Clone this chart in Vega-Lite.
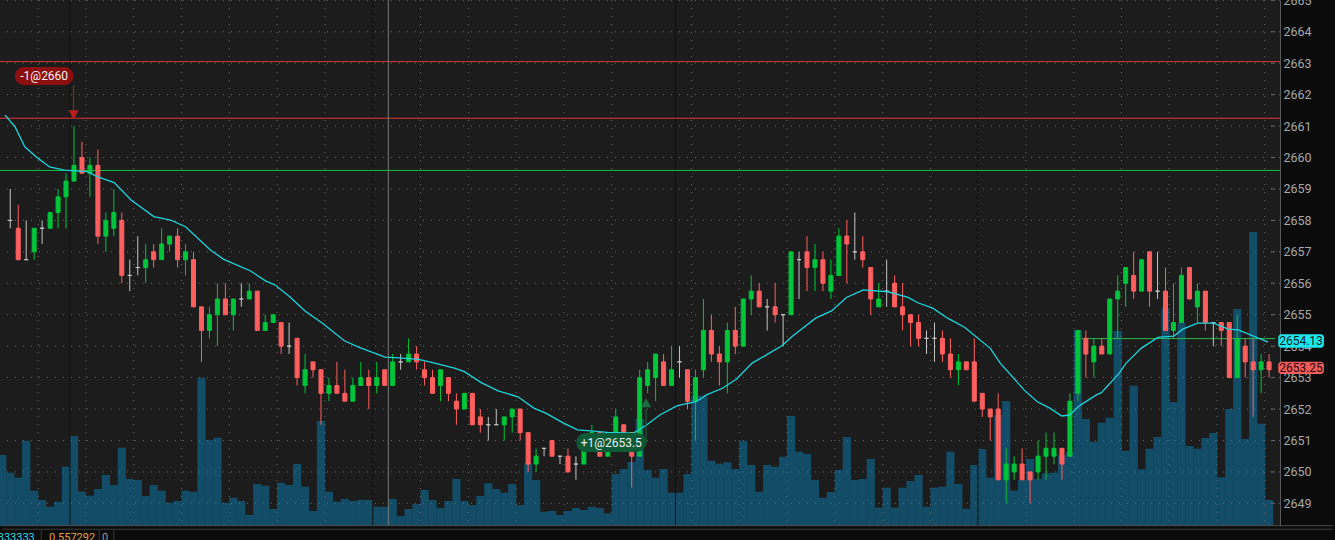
{
"$schema":"https://vega.github.io/schema/vega-lite/v6.json",
"width":1280,"height":526,
"autosize":{"type":"none"},
"padding":{"left":0,"top":0,"right":55,"bottom":14},
"background":"#0b0b0b",
"config":{"view":{"fill":"#1c1c1c","stroke":null},"font":"Roboto"},
"datasets":{
"candles":[
{"i":-1,"v":710},
{"i":0,"o":2658,"h":2659,"l":2657.75,"c":2658,"v":533},
{"i":1,"o":2657.75,"h":2658.5,"l":2656.75,"c":2656.75,"v":483},
{"i":2,"o":2656.75,"h":2658,"l":2656.75,"c":2656.75,"v":853},
{"i":3,"o":2657,"h":2657.75,"l":2656.75,"c":2657.75,"v":353},
{"i":4,"o":2657.75,"h":2658,"l":2657.25,"c":2657.75,"v":260},
{"i":5,"o":2657.75,"h":2658.25,"l":2657.75,"c":2658.25,"v":193},
{"i":6,"o":2658.25,"h":2659,"l":2657.75,"c":2658.75,"v":243},
{"i":7,"o":2658.75,"h":2659.5,"l":2657.75,"c":2659.25,"v":593},
{"i":8,"o":2659.25,"h":2661,"l":2659.25,"c":2659.75,"v":900},
{"i":9,"o":2660,"h":2660.5,"l":2659.5,"c":2659.5,"v":343},
{"i":10,"o":2659.5,"h":2660,"l":2658.75,"c":2659.75,"v":303},
{"i":11,"o":2659.75,"h":2660.25,"l":2657.25,"c":2657.5,"v":370},
{"i":12,"o":2657.5,"h":2658.25,"l":2657,"c":2658,"v":510},
{"i":13,"o":2657.75,"h":2659,"l":2657.5,"c":2658.25,"v":410},
{"i":14,"o":2658,"h":2658.25,"l":2656,"c":2656.25,"v":783},
{"i":15,"o":2656.25,"h":2656.75,"l":2655.75,"c":2656.25,"v":470},
{"i":16,"o":2656.5,"h":2657.5,"l":2656.25,"c":2656.5,"v":460},
{"i":17,"o":2656.5,"h":2657.25,"l":2656,"c":2656.75,"v":300},
{"i":18,"o":2657,"h":2657.25,"l":2656.5,"c":2656.75,"v":410},
{"i":19,"o":2656.75,"h":2657.75,"l":2656.75,"c":2657.25,"v":353},
{"i":20,"o":2657.25,"h":2657.5,"l":2657,"c":2657.5,"v":233},
{"i":21,"o":2657.5,"h":2657.75,"l":2656.5,"c":2656.75,"v":250},
{"i":22,"o":2656.75,"h":2657.25,"l":2656.25,"c":2657,"v":353},
{"i":23,"o":2656.75,"h":2657,"l":2655.25,"c":2655.25,"v":343},
{"i":24,"o":2655.25,"h":2655.25,"l":2653.5,"c":2654.5,"v":1483},
{"i":25,"o":2654.5,"h":2655.25,"l":2654.25,"c":2655,"v":860},
{"i":26,"o":2655,"h":2656,"l":2654,"c":2655.5,"v":883},
{"i":27,"o":2655.5,"h":2656,"l":2655,"c":2655,"v":233},
{"i":28,"o":2655,"h":2655.5,"l":2654.5,"c":2655.5,"v":283},
{"i":29,"o":2655.5,"h":2656,"l":2655.25,"c":2655.5,"v":250},
{"i":30,"o":2655.5,"h":2656,"l":2655.5,"c":2655.75,"v":110},
{"i":31,"o":2655.75,"h":2655.75,"l":2654.5,"c":2654.5,"v":420},
{"i":32,"o":2654.5,"h":2655,"l":2654.5,"c":2654.75,"v":403},
{"i":33,"o":2654.75,"h":2655,"l":2654.75,"c":2655,"v":170},
{"i":34,"o":2654.75,"h":2654.75,"l":2653.75,"c":2654,"v":433},
{"i":35,"o":2654,"h":2654.75,"l":2653.75,"c":2654,"v":410},
{"i":36,"o":2654.25,"h":2654.25,"l":2652.75,"c":2653,"v":620},
{"i":37,"o":2652.75,"h":2653.75,"l":2652.5,"c":2653.25,"v":393},
{"i":38,"o":2653.5,"h":2653.5,"l":2653,"c":2653.25,"v":150},
{"i":39,"o":2653.25,"h":2653.25,"l":2651.5,"c":2652.5,"v":1050},
{"i":40,"o":2652.5,"h":2653,"l":2652.25,"c":2652.75,"v":343},
{"i":41,"o":2652.75,"h":2653.5,"l":2652.5,"c":2652.5,"v":243},
{"i":42,"o":2652.5,"h":2653.25,"l":2652.25,"c":2652.25,"v":270},
{"i":43,"o":2652.25,"h":2653,"l":2652.25,"c":2652.75,"v":250},
{"i":44,"o":2652.75,"h":2653.5,"l":2652.75,"c":2653,"v":260},
{"i":45,"o":2653,"h":2653.25,"l":2652,"c":2652.75,"v":260},
{"i":46,"o":2652.75,"h":2653.5,"l":2652.5,"c":2653,"v":193},
{"i":47,"o":2653.25,"h":2653.25,"l":2652.75,"c":2652.75,"v":193},
{"i":48,"o":2652.75,"h":2653.75,"l":2652.75,"c":2653.5,"v":270},
{"i":49,"o":2653.5,"h":2653.75,"l":2653.25,"c":2653.5,"v":100},
{"i":50,"o":2653.5,"h":2654.25,"l":2653.5,"c":2653.75,"v":170},
{"i":51,"o":2653.75,"h":2654,"l":2653.25,"c":2653.5,"v":220},
{"i":52,"o":2653.25,"h":2653.5,"l":2652.75,"c":2653,"v":360},
{"i":53,"o":2653,"h":2653.25,"l":2652.5,"c":2652.5,"v":260},
{"i":54,"o":2652.75,"h":2653.25,"l":2652.25,"c":2653.25,"v":180},
{"i":55,"o":2653,"h":2653,"l":2652.25,"c":2652.5,"v":250},
{"i":56,"o":2652.25,"h":2652.5,"l":2651.5,"c":2652,"v":470},
{"i":57,"o":2652,"h":2652.5,"l":2652,"c":2652.5,"v":250},
{"i":58,"o":2652.5,"h":2652.5,"l":2651.5,"c":2651.5,"v":210},
{"i":59,"o":2651.75,"h":2652,"l":2651.25,"c":2651.5,"v":300},
{"i":60,"o":2651.5,"h":2651.75,"l":2651,"c":2651.5,"v":427},
{"i":61,"o":2651.5,"h":2652,"l":2651.5,"c":2651.5,"v":370},
{"i":62,"o":2651.5,"h":2651.75,"l":2651,"c":2651.75,"v":333},
{"i":63,"o":2651.75,"h":2652,"l":2651.25,"c":2652,"v":420},
{"i":64,"o":2652,"h":2652,"l":2651,"c":2651.25,"v":210},
{"i":65,"o":2651.25,"h":2651.25,"l":2650,"c":2650.25,"v":627},
{"i":66,"o":2650.25,"h":2650.75,"l":2650,"c":2650.5,"v":460},
{"i":67,"o":2650.75,"h":2650.75,"l":2650.5,"c":2650.75,"v":143},
{"i":68,"o":2651,"h":2651,"l":2650.5,"c":2650.5,"v":150},
{"i":69,"o":2650.5,"h":2650.5,"l":2650.25,"c":2650.5,"v":110},
{"i":70,"o":2650.5,"h":2650.75,"l":2650,"c":2650,"v":150},
{"i":71,"o":2650.25,"h":2650.5,"l":2649.75,"c":2650.25,"v":180},
{"i":72,"o":2650.25,"h":2651,"l":2650.25,"c":2650.75,"v":160},
{"i":73,"o":2651,"h":2651.5,"l":2651,"c":2651.25,"v":193},
{"i":74,"o":2651.25,"h":2651.25,"l":2650.5,"c":2650.5,"v":180},
{"i":75,"o":2650.5,"h":2651.25,"l":2650.5,"c":2651.25,"v":127},
{"i":76,"o":2651.25,"h":2652,"l":2651.25,"c":2651.75,"v":520},
{"i":77,"o":2651.5,"h":2651.5,"l":2651.25,"c":2651.25,"v":570},
{"i":78,"o":2651.25,"h":2651.25,"l":2649.5,"c":2650.5,"v":640},
{"i":79,"o":2650.5,"h":2653.25,"l":2650.5,"c":2653,"v":1070},
{"i":80,"o":2652.75,"h":2653.5,"l":2652.5,"c":2653.25,"v":560},
{"i":81,"o":2653,"h":2653.75,"l":2652.25,"c":2653.75,"v":483},
{"i":82,"o":2653.5,"h":2653.75,"l":2652.75,"c":2652.75,"v":570},
{"i":83,"o":2652.75,"h":2654,"l":2652.75,"c":2653.25,"v":333},
{"i":84,"o":2653.5,"h":2654,"l":2653,"c":2653.5,"v":333},
{"i":85,"o":2653.25,"h":2653.25,"l":2652,"c":2652.25,"v":520},
{"i":86,"o":2652.25,"h":2653.25,"l":2651,"c":2653,"v":1303},
{"i":87,"o":2653.25,"h":2655.5,"l":2653,"c":2654.5,"v":1303},
{"i":88,"o":2654.5,"h":2655,"l":2653.5,"c":2653.75,"v":653},
{"i":89,"o":2653.75,"h":2654,"l":2652.75,"c":2653.5,"v":623},
{"i":90,"o":2653.5,"h":2654.75,"l":2652.5,"c":2654.5,"v":637},
{"i":91,"o":2654.5,"h":2655.25,"l":2653.75,"c":2654,"v":570},
{"i":92,"o":2654,"h":2655.5,"l":2654,"c":2655.5,"v":853},
{"i":93,"o":2655.5,"h":2656.25,"l":2655,"c":2655.75,"v":610},
{"i":94,"o":2655.75,"h":2656,"l":2655.25,"c":2655.25,"v":343},
{"i":95,"o":2655.25,"h":2655.5,"l":2654.5,"c":2655.25,"v":610},
{"i":96,"o":2655.25,"h":2656,"l":2654.75,"c":2655,"v":593},
{"i":97,"o":2655,"h":2655,"l":2654,"c":2655,"v":693},
{"i":98,"o":2655,"h":2657,"l":2655,"c":2657,"v":1100},
{"i":99,"o":2656.75,"h":2657,"l":2655.5,"c":2656.75,"v":743},
{"i":100,"o":2657,"h":2657.5,"l":2655.75,"c":2656.5,"v":720},
{"i":101,"o":2656.5,"h":2657.25,"l":2655.75,"c":2656.75,"v":460},
{"i":102,"o":2656.75,"h":2657,"l":2655.75,"c":2656,"v":283},
{"i":103,"o":2655.75,"h":2656.75,"l":2655.5,"c":2656.25,"v":340},
{"i":104,"o":2656.25,"h":2657.75,"l":2656.25,"c":2657.5,"v":560},
{"i":105,"o":2657.5,"h":2658,"l":2656,"c":2657.25,"v":890},
{"i":106,"o":2657,"h":2658.25,"l":2656.75,"c":2657,"v":460},
{"i":107,"o":2657,"h":2657.5,"l":2656.5,"c":2656.75,"v":470},
{"i":108,"o":2656.5,"h":2656.5,"l":2655,"c":2655.5,"v":670},
{"i":109,"o":2655.25,"h":2656,"l":2655.25,"c":2655.5,"v":183},
{"i":110,"o":2655.75,"h":2656.75,"l":2655.25,"c":2655.75,"v":383},
{"i":111,"o":2656,"h":2656.25,"l":2655.25,"c":2655.25,"v":183},
{"i":112,"o":2655.25,"h":2656,"l":2654.5,"c":2655,"v":383},
{"i":113,"o":2655,"h":2655,"l":2654,"c":2654.75,"v":450},
{"i":114,"o":2654.75,"h":2655,"l":2654,"c":2654.25,"v":510},
{"i":115,"o":2654.25,"h":2654.5,"l":2653.75,"c":2654.25,"v":193},
{"i":116,"o":2654.25,"h":2654.75,"l":2653.5,"c":2654.25,"v":383},
{"i":117,"o":2654.25,"h":2654.5,"l":2653.5,"c":2653.75,"v":393},
{"i":118,"o":2653.75,"h":2654.25,"l":2653,"c":2653.25,"v":743},
{"i":119,"o":2653.25,"h":2653.75,"l":2652.75,"c":2653.5,"v":420},
{"i":120,"o":2653.5,"h":2653.5,"l":2653.25,"c":2653.25,"v":173},
{"i":121,"o":2653.5,"h":2654.25,"l":2652.25,"c":2652.25,"v":610},
{"i":122,"o":2652.5,"h":2652.5,"l":2651.75,"c":2652,"v":770},
{"i":123,"o":2652,"h":2652,"l":2651,"c":2651.75,"v":483},
{"i":124,"o":2652,"h":2652.5,"l":2649.75,"c":2649.75,"v":1110},
{"i":125,"o":2649.75,"h":2650.75,"l":2649,"c":2650.25,"v":1250},
{"i":126,"o":2650,"h":2650.5,"l":2649.75,"c":2650.25,"v":353},
{"i":127,"o":2650.25,"h":2650.75,"l":2649.75,"c":2649.75,"v":460},
{"i":128,"o":2650,"h":2650,"l":2649,"c":2649.75,"v":670},
{"i":129,"o":2650,"h":2651,"l":2649.75,"c":2650.5,"v":470},
{"i":130,"o":2650.5,"h":2651.25,"l":2649.75,"c":2650.75,"v":527},
{"i":131,"o":2650.5,"h":2651.25,"l":2650.25,"c":2650.75,"v":533},
{"i":132,"o":2650.75,"h":2650.75,"l":2649.75,"c":2650.25,"v":710},
{"i":133,"o":2650.5,"h":2652.5,"l":2650.5,"c":2652.25,"v":743},
{"i":134,"o":2652.5,"h":2654.5,"l":2652.25,"c":2654.5,"v":1960},
{"i":135,"o":2654.25,"h":2654.5,"l":2653,"c":2653.75,"v":1070},
{"i":136,"o":2653.5,"h":2654.25,"l":2653,"c":2654,"v":843},
{"i":137,"o":2654,"h":2654.25,"l":2653.75,"c":2653.75,"v":1033},
{"i":138,"o":2653.75,"h":2655.5,"l":2653.75,"c":2655.5,"v":1083},
{"i":139,"o":2655.5,"h":2656.25,"l":2654.25,"c":2655.75,"v":1950},
{"i":140,"o":2656,"h":2656.5,"l":2655.25,"c":2656.5,"v":753},
{"i":141,"o":2656.25,"h":2657,"l":2655.5,"c":2655.75,"v":1403},
{"i":142,"o":2655.75,"h":2656.75,"l":2655.75,"c":2656.75,"v":567},
{"i":143,"o":2657,"h":2657,"l":2655.25,"c":2655.75,"v":773},
{"i":144,"o":2655.75,"h":2657,"l":2655.5,"c":2655.75,"v":890},
{"i":145,"o":2655.75,"h":2656.5,"l":2654.5,"c":2654.5,"v":2177},
{"i":146,"o":2654.5,"h":2656,"l":2654.25,"c":2654.75,"v":1240},
{"i":147,"o":2654.75,"h":2656.5,"l":2654.75,"c":2656.25,"v":2033},
{"i":148,"o":2656.5,"h":2656.5,"l":2655.5,"c":2655.5,"v":800},
{"i":149,"o":2655.25,"h":2656,"l":2654.75,"c":2655.75,"v":773},
{"i":150,"o":2655.75,"h":2655.75,"l":2654.5,"c":2654.75,"v":880},
{"i":151,"o":2654.75,"h":2654.75,"l":2654,"c":2654.75,"v":930},
{"i":152,"o":2654.75,"h":2654.75,"l":2654,"c":2654.5,"v":487},
{"i":153,"o":2654.75,"h":2654.75,"l":2653,"c":2653,"v":1170},
{"i":154,"o":2653,"h":2655,"l":2653,"c":2654.25,"v":2170},
{"i":155,"o":2654,"h":2654.25,"l":2653,"c":2653.5,"v":870},
{"i":156,"o":2653.5,"h":2654.25,"l":2651.75,"c":2653.25,"v":2940},
{"i":157,"o":2653.25,"h":2653.75,"l":2652.5,"c":2653.5,"v":1023},
{"i":158,"o":2653.5,"h":2653.75,"l":2653,"c":2653.25,"v":260}
],
"ma":[
{"i":-0.66,"m":2661.35},{"i":0.59,"m":2660.98},{"i":1.83,"m":2660.34},{"i":3.45,"m":2659.98},{"i":4.94,"m":2659.7},{"i":6.81,"m":2659.6},{"i":9.68,"m":2659.55},{"i":10.92,"m":2659.39},{"i":13.04,"m":2659.2},{"i":15.16,"m":2658.65},{"i":18.02,"m":2658.12},{"i":20.14,"m":2658.01},{"i":22.0,"m":2657.8},{"i":25.12,"m":2657.06},{"i":26.74,"m":2656.77},{"i":30.1,"m":2656.4},{"i":32.09,"m":2656.07},{"i":33.21,"m":2655.95},{"i":35.08,"m":2655.57},{"i":37.07,"m":2655.1},{"i":39.19,"m":2654.73},{"i":41.93,"m":2654.17},{"i":43.8,"m":2653.96},{"i":47.04,"m":2653.65},{"i":48.78,"m":2653.63},{"i":51.27,"m":2653.58},{"i":53.26,"m":2653.46},{"i":55.75,"m":2653.3},{"i":57.0,"m":2653.19},{"i":59.11,"m":2652.84},{"i":61.23,"m":2652.58},{"i":63.72,"m":2652.39},{"i":65.72,"m":2652.03},{"i":67.21,"m":2651.87},{"i":69.45,"m":2651.55},{"i":71.2,"m":2651.34},{"i":73.19,"m":2651.3},{"i":74.93,"m":2651.26},{"i":78.17,"m":2651.23},{"i":79.91,"m":2651.5},{"i":81.53,"m":2651.81},{"i":83.65,"m":2652.1},{"i":86.14,"m":2652.24},{"i":87.39,"m":2652.45},{"i":89.38,"m":2652.66},{"i":91.12,"m":2652.95},{"i":93.11,"m":2653.46},{"i":95.23,"m":2653.77},{"i":96.85,"m":2654.01},{"i":98.09,"m":2654.3},{"i":101.08,"m":2654.89},{"i":103.08,"m":2655.12},{"i":104.95,"m":2655.55},{"i":107.06,"m":2655.79},{"i":110.18,"m":2655.73},{"i":112.67,"m":2655.55},{"i":113.91,"m":2655.38},{"i":115.78,"m":2655.21},{"i":117.65,"m":2654.89},{"i":119.77,"m":2654.6},{"i":123.0,"m":2653.93},{"i":124.25,"m":2653.46},{"i":127.24,"m":2652.61},{"i":128.86,"m":2652.24},{"i":130.48,"m":2652.03},{"i":131.97,"m":2651.78},{"i":132.97,"m":2651.81},{"i":134.21,"m":2652.11},{"i":136.33,"m":2652.45},{"i":136.95,"m":2652.52},{"i":139.19,"m":2653.14},{"i":140.06,"m":2653.46},{"i":141.93,"m":2653.93},{"i":144.05,"m":2654.28},{"i":146.04,"m":2654.32},{"i":147.16,"m":2654.54},{"i":149.03,"m":2654.73},{"i":151.02,"m":2654.73},{"i":152.89,"m":2654.54},{"i":154.14,"m":2654.52},{"i":157.87,"m":2654.13}
],
"gridY":[{"p":2649},{"p":2650},{"p":2651},{"p":2652},{"p":2653},{"p":2654},{"p":2655},{"p":2656},{"p":2657},{"p":2658},{"p":2659},{"p":2660},{"p":2661},{"p":2662},{"p":2663},{"p":2664},{"p":2665}],
"gridX":[{"t":3.5},{"t":9.5},{"t":15.5},{"t":21.5},{"t":27.5},{"t":33.5},{"t":39.5},{"t":45.5},{"t":51.5},{"t":57.5},{"t":63.5},{"t":69.5},{"t":75.5},{"t":85.5},{"t":91.5},{"t":97.5},{"t":103.5},{"t":109.5},{"t":115.5},{"t":121.5},{"t":127.5},{"t":133.5},{"t":139.45},{"t":145.45},{"t":151.45},{"t":157.45}],
"seps":[{"t":7.5},{"t":45.5},{"t":83.5},{"t":121.45}]
},
"layer":[
{"data":{"name":"candles"},"mark":{"type":"bar","color":"#134c67","size":8.2},
 "encoding":{
  "x":{"field":"i","type":"quantitative","scale":{"type":"linear","domain":[-0.66,158.74],"nice":false,"zero":false},"axis":null},
  "y":{"field":"v","type":"quantitative","scale":{"domain":[0,5260],"nice":false,"zero":false},"axis":null},
  "y2":{"datum":0}}},
 {"data":{"name":"gridY"},"mark":{"type":"rule","color":"#686868","strokeDash":[1,7],"strokeWidth":1},
  "encoding":{"y":{"field":"p","type":"quantitative","scale":{"domain":[2648.28,2665.01],"nice":false,"zero":false},
   "axis":{"orient":"right","title":null,"format":"d","values":[2649,2650,2651,2652,2653,2654,2655,2656,2657,2658,2659,2660,2661,2662,2663,2664,2665],"grid":false,"ticks":false,"labelColor":"#a8a8a8","labelFont":"Roboto","labelFontSize":12.5,"domain":true,"domainColor":"#5a5a5a","labelPadding":3,"labelOverlap":false}}}},
 {"data":{"name":"gridY"},"mark":{"type":"rule","color":"#6a6a6a","strokeWidth":1},
  "encoding":{
   "x":{"datum":158.24,"type":"quantitative","scale":{"type":"linear","domain":[-0.66,158.74],"nice":false,"zero":false},"axis":null},
   "x2":{"datum":158.74},
   "y":{"field":"p","type":"quantitative","scale":{"domain":[2648.28,2665.01],"nice":false,"zero":false},"axis":null}}},
 {"data":{"name":"gridX"},"mark":{"type":"rule","color":"#686868","strokeDash":[1,7],"strokeWidth":1},
  "encoding":{"x":{"field":"t","type":"quantitative","scale":{"type":"linear","domain":[-0.66,158.74],"nice":false,"zero":false},"axis":null}}},
 {"data":{"name":"seps"},"mark":{"type":"rule","color":"#111111","strokeWidth":1},
  "encoding":{"x":{"field":"t","type":"quantitative","scale":{"type":"linear","domain":[-0.66,158.74],"nice":false,"zero":false},"axis":null}}},
 {"data":{"values":[{}]},"mark":{"type":"rule","color":"#d8393e","strokeWidth":1},
  "encoding":{"y":{"datum":2663.05,"type":"quantitative","scale":{"domain":[2648.28,2665.01],"nice":false,"zero":false},"axis":null}}},
 {"data":{"values":[{}]},"mark":{"type":"rule","color":"#e8363c","strokeWidth":1},
  "encoding":{"y":{"datum":2661.25,"type":"quantitative","scale":{"domain":[2648.28,2665.01],"nice":false,"zero":false},"axis":null}}},
 {"data":{"values":[{}]},"mark":{"type":"rule","color":"#12c43e","strokeWidth":1},
  "encoding":{"y":{"datum":2659.59,"type":"quantitative","scale":{"domain":[2648.28,2665.01],"nice":false,"zero":false},"axis":null}}},
 {"data":{"values":[{}]},"mark":{"type":"rule","color":"#7a7a7a","strokeWidth":1},
  "encoding":{"x":{"datum":47.45,"type":"quantitative","scale":{"type":"linear","domain":[-0.66,158.74],"nice":false,"zero":false},"axis":null}}},
 {"data":{"values":[{}]},"mark":{"type":"rule","color":"#2cb84c","strokeWidth":1},
  "encoding":{
   "x":{"datum":134.46,"type":"quantitative","scale":{"type":"linear","domain":[-0.66,158.74],"nice":false,"zero":false},"axis":null},
   "x2":{"datum":158.74},
   "y":{"datum":2654.24,"type":"quantitative","scale":{"domain":[2648.28,2665.01],"nice":false,"zero":false},"axis":null}}},
 {"data":{"name":"candles"},"transform":[{"filter":"isValid(datum.o)"}],"mark":{"type":"rule","strokeWidth":1},
  "encoding":{
   "x":{"field":"i","type":"quantitative","scale":{"type":"linear","domain":[-0.66,158.74],"nice":false,"zero":false},"axis":null},
   "y":{"field":"l","type":"quantitative","scale":{"domain":[2648.28,2665.01],"nice":false,"zero":false},"axis":null},
   "y2":{"field":"h"},
   "color":{"condition":[{"test":"datum.c > datum.o","value":"#00c43a"},{"test":"datum.c < datum.o","value":"#ff5f5f"}],"value":"#c4c4c4"}}},
 {"data":{"name":"candles"},"transform":[{"filter":"isValid(datum.o)"}],"mark":{"type":"bar","size":4,"strokeWidth":1},
  "encoding":{
   "x":{"field":"i","type":"quantitative","scale":{"type":"linear","domain":[-0.66,158.74],"nice":false,"zero":false},"axis":null},
   "y":{"field":"o","type":"quantitative","scale":{"domain":[2648.28,2665.01],"nice":false,"zero":false},"axis":null},
   "y2":{"field":"c"},
   "fill":{"condition":[{"test":"datum.c > datum.o","value":"#00c43a"},{"test":"datum.c < datum.o","value":"#ff5f5f"}],"value":"#c4c4c4"},
   "stroke":{"condition":[{"test":"datum.c > datum.o","value":"#00c43a"},{"test":"datum.c < datum.o","value":"#ff5f5f"}],"value":"#c4c4c4"}}},
 {"data":{"name":"ma"},"mark":{"type":"line","color":"#1fd3dc","strokeWidth":1.3},
  "encoding":{
   "x":{"field":"i","type":"quantitative","scale":{"type":"linear","domain":[-0.66,158.74],"nice":false,"zero":false},"axis":null},
   "y":{"field":"m","type":"quantitative","scale":{"domain":[2648.28,2665.01],"nice":false,"zero":false},"axis":null}}},
 {"data":{"values":[{}]},"mark":{"type":"rect","color":"#8c0f10","cornerRadius":9},
  "encoding":{
   "x":{"datum":0.585,"type":"quantitative","scale":{"type":"linear","domain":[-0.66,158.74],"nice":false,"zero":false},"axis":null},
   "x2":{"datum":7.93},
   "y":{"datum":2662.877,"type":"quantitative","scale":{"domain":[2648.28,2665.01],"nice":false,"zero":false},"axis":null},
   "y2":{"datum":2662.304}}},
 {"data":{"values":[{}]},"mark":{"type":"text","text":"-1@2660","color":"#f2f2f2","fontSize":12,"font":"Roboto"},
  "encoding":{
   "x":{"datum":4.26,"type":"quantitative","scale":{"type":"linear","domain":[-0.66,158.74],"nice":false,"zero":false},"axis":null},
   "y":{"datum":2662.59,"type":"quantitative","scale":{"domain":[2648.28,2665.01],"nice":false,"zero":false},"axis":null}}},
 {"data":{"values":[{}]},"mark":{"type":"rule","color":"#b01c1c","strokeWidth":1},
  "encoding":{
   "x":{"datum":7.95,"type":"quantitative","scale":{"type":"linear","domain":[-0.66,158.74],"nice":false,"zero":false},"axis":null},
   "y":{"datum":2662.3,"type":"quantitative","scale":{"domain":[2648.28,2665.01],"nice":false,"zero":false},"axis":null},
   "y2":{"datum":2661.45}}},
 {"data":{"values":[{}]},"mark":{"type":"point","shape":"triangle-down","filled":true,"color":"#b41e1e","size":110,"opacity":1},
  "encoding":{
   "x":{"datum":7.95,"type":"quantitative","scale":{"type":"linear","domain":[-0.66,158.74],"nice":false,"zero":false},"axis":null},
   "y":{"datum":2661.36,"type":"quantitative","scale":{"domain":[2648.28,2665.01],"nice":false,"zero":false},"axis":null}}},
 {"data":{"values":[{}]},"mark":{"type":"rule","color":"#1c7040","strokeWidth":1},
  "encoding":{
   "x":{"datum":79.8,"type":"quantitative","scale":{"type":"linear","domain":[-0.66,158.74],"nice":false,"zero":false},"axis":null},
   "y":{"datum":2652.0,"type":"quantitative","scale":{"domain":[2648.28,2665.01],"nice":false,"zero":false},"axis":null},
   "y2":{"datum":2650.9}}},
 {"data":{"values":[{}]},"mark":{"type":"point","shape":"triangle-up","filled":true,"color":"#1c6e40","size":110,"opacity":1},
  "encoding":{
   "x":{"datum":79.8,"type":"quantitative","scale":{"type":"linear","domain":[-0.66,158.74],"nice":false,"zero":false},"axis":null},
   "y":{"datum":2652.2,"type":"quantitative","scale":{"domain":[2648.28,2665.01],"nice":false,"zero":false},"axis":null}}},
 {"data":{"values":[{}]},"mark":{"type":"rect","color":"#0e5a36","cornerRadius":9},
  "encoding":{
   "x":{"datum":71.07,"type":"quantitative","scale":{"type":"linear","domain":[-0.66,158.74],"nice":false,"zero":false},"axis":null},
   "x2":{"datum":79.79},
   "y":{"datum":2651.235,"type":"quantitative","scale":{"domain":[2648.28,2665.01],"nice":false,"zero":false},"axis":null},
   "y2":{"datum":2650.63}}},
 {"data":{"values":[{}]},"mark":{"type":"text","text":"+1@2653.5","color":"#ececec","fontSize":12,"font":"Roboto"},
  "encoding":{
   "x":{"datum":75.43,"type":"quantitative","scale":{"type":"linear","domain":[-0.66,158.74],"nice":false,"zero":false},"axis":null},
   "y":{"datum":2650.93,"type":"quantitative","scale":{"domain":[2648.28,2665.01],"nice":false,"zero":false},"axis":null}}},
 {"data":{"values":[{}]},"mark":{"type":"rect","color":"#1ee6ef","cornerRadius":3},
  "encoding":{
   "x":{"datum":159.15,"type":"quantitative","scale":{"type":"linear","domain":[-0.66,158.74],"nice":false,"zero":false},"axis":null},
   "x2":{"datum":164.88},
   "y":{"datum":2654.375,"type":"quantitative","scale":{"domain":[2648.28,2665.01],"nice":false,"zero":false},"axis":null},
   "y2":{"datum":2653.95}}},
 {"data":{"values":[{}]},"mark":{"type":"text","text":"2654.13","color":"#0b2224","fontSize":12,"font":"Roboto"},
  "encoding":{
   "x":{"datum":162.0,"type":"quantitative","scale":{"type":"linear","domain":[-0.66,158.74],"nice":false,"zero":false},"axis":null},
   "y":{"datum":2654.16,"type":"quantitative","scale":{"domain":[2648.28,2665.01],"nice":false,"zero":false},"axis":null}}},
 {"data":{"values":[{}]},"mark":{"type":"rect","color":"#f05b5b","cornerRadius":3},
  "encoding":{
   "x":{"datum":159.15,"type":"quantitative","scale":{"type":"linear","domain":[-0.66,158.74],"nice":false,"zero":false},"axis":null},
   "x2":{"datum":164.88},
   "y":{"datum":2653.503,"type":"quantitative","scale":{"domain":[2648.28,2665.01],"nice":false,"zero":false},"axis":null},
   "y2":{"datum":2653.112}}},
 {"data":{"values":[{}]},"mark":{"type":"text","text":"2653.25","color":"#2a0808","fontSize":12,"font":"Roboto"},
  "encoding":{
   "x":{"datum":162.0,"type":"quantitative","scale":{"type":"linear","domain":[-0.66,158.74],"nice":false,"zero":false},"axis":null},
   "y":{"datum":2653.31,"type":"quantitative","scale":{"domain":[2648.28,2665.01],"nice":false,"zero":false},"axis":null}}},
 {"data":{"values":[{}]},"mark":{"type":"rule","color":"#4a4a4a","strokeWidth":1},
  "encoding":{
   "x":{"datum":-1,"type":"quantitative","scale":{"type":"linear","domain":[-0.66,158.74],"nice":false,"zero":false},"axis":null},
   "x2":{"datum":166},
   "y":{"datum":2648.29,"type":"quantitative","scale":{"domain":[2648.28,2665.01],"nice":false,"zero":false},"axis":null}}},
 {"data":{"values":[{}]},"mark":{"type":"rule","color":"#3c3c3c","strokeWidth":1},
  "encoding":{
   "x":{"datum":-1,"type":"quantitative","scale":{"type":"linear","domain":[-0.66,158.74],"nice":false,"zero":false},"axis":null},
   "x2":{"datum":166},
   "y":{"datum":2648.176,"type":"quantitative","scale":{"domain":[2648.28,2665.01],"nice":false,"zero":false},"axis":null}}},
 {"data":{"values":[{"t":3.885},{"t":11.17},{"t":13.0}]},"mark":{"type":"rule","color":"#3a3a3a","strokeWidth":1},
  "encoding":{
   "x":{"field":"t","type":"quantitative","scale":{"type":"linear","domain":[-0.66,158.74],"nice":false,"zero":false},"axis":null},
   "y":{"datum":2648.15,"type":"quantitative","scale":{"domain":[2648.28,2665.01],"nice":false,"zero":false},"axis":null},
   "y2":{"datum":2647.8}}},
 {"data":{"values":[{}]},"mark":{"type":"text","text":"0.333333","color":"#2fd6e0","fontSize":11,"font":"Roboto","align":"right","baseline":"top"},
  "encoding":{
   "x":{"datum":3.08,"type":"quantitative","scale":{"type":"linear","domain":[-0.66,158.74],"nice":false,"zero":false},"axis":null},
   "y":{"datum":2648.1,"type":"quantitative","scale":{"domain":[2648.28,2665.01],"nice":false,"zero":false},"axis":null}}},
 {"data":{"values":[{}]},"mark":{"type":"text","text":"0.557292","color":"#e3a23b","fontSize":11,"font":"Roboto","align":"left","baseline":"top"},
  "encoding":{
   "x":{"datum":4.86,"type":"quantitative","scale":{"type":"linear","domain":[-0.66,158.74],"nice":false,"zero":false},"axis":null},
   "y":{"datum":2648.1,"type":"quantitative","scale":{"domain":[2648.28,2665.01],"nice":false,"zero":false},"axis":null}}},
 {"data":{"values":[{}]},"mark":{"type":"text","text":"0","color":"#9a9a9a","fontSize":11,"font":"Roboto","align":"left","baseline":"top"},
  "encoding":{
   "x":{"datum":11.5,"type":"quantitative","scale":{"type":"linear","domain":[-0.66,158.74],"nice":false,"zero":false},"axis":null},
   "y":{"datum":2648.1,"type":"quantitative","scale":{"domain":[2648.28,2665.01],"nice":false,"zero":false},"axis":null}}}
],
"resolve":{"scale":{"y":"independent"}}
}
